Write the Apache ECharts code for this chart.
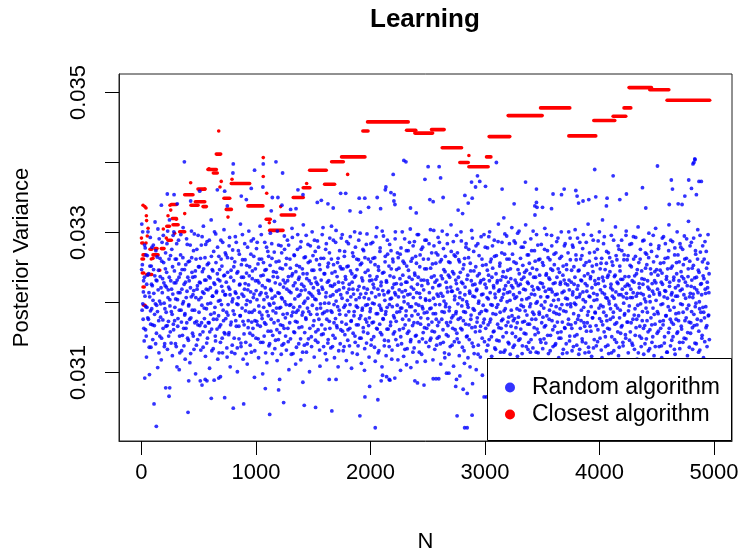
<!DOCTYPE html>
<html>
<head>
<meta charset="utf-8">
<script src="https://cdn.jsdelivr.net/npm/echarts@6/dist/echarts.min.js"></script>
<style>
  html, body { margin: 0; padding: 0; background: #fff; }
  #chart { width: 741px; height: 552px; }
</style>
</head>
<body>
<div id="chart"></div>
<script>
const FONT = '"Liberation Sans", Arial, Helvetica, sans-serif';

const xTicks = [0, 1000, 2000, 3000, 4000, 5000];
const yTicks = [0.031, 0.032, 0.033, 0.034, 0.035];
const yLabels = [0.031, 0.033, 0.035];
const seriesNames = ['Random algorithm', 'Closest algorithm'];

// Random algorithm: [N, posterior variance] (outer spread + outliers)
const randomPts = [
  // 0 - 250
  [3,.03312],[8,.03254],[12,.03198],[15,.03176],[19,.03231],[24,.03145],[27,.03282],[29,.03092],[31,.03209],[36,.03161],[40,.03268],[44,.03122],[48,.03193],[53,.03239],[57,.03301],[61,.03176],[66,.03214],[70,.03097],[74,.03252],[79,.03188],[83,.03136],[88,.03226],[92,.03279],[97,.03168],[101,.03203],[106,.03247],[110,.03055],[115,.03183],[119,.03315],[124,.03141],[128,.03232],[130,.03023],[133,.03196],[137,.03265],[142,.03107],[146,.03218],[151,.03174],[155,.03291],[160,.03152],[164,.03237],[169,.03198],[174,.03339],[173,.03118],[178,.03259],[182,.03214],[187,.03175],[191,.03296],[196,.03228],[200,.03137],[205,.03191],[209,.03248],[214,.03166],[212,.03078],[218,.03222],[223,.03284],[226,.03355],[227,.03133],[232,.03207],[236,.03173],[241,.03066],[241,.03262],[245,.03318],[247,.03078],[249,.03195],
  // 250 - 500
  [252,.03158],[256,.03231],[261,.03187],[265,.03276],[270,.03124],[274,.03212],[279,.03169],[283,.03301],[285,.03354],[288,.03245],[292,.03193],[297,.03141],[301,.03228],[306,.03262],[310,.03108],[313,.03341],[315,.03204],[319,.03177],[324,.03289],[328,.03236],[330,.03104],[333,.03152],[337,.03214],[342,.03268],[346,.03189],[351,.03131],[355,.03247],[360,.03198],[364,.03307],[369,.03163],[373,.03226],[375,.03401],[378,.03182],[382,.03119],[387,.03254],[391,.03207],[396,.03171],[400,.03283],[405,.03236],[407,.03043],[410,.03146],[413,.03088],[414,.03197],[419,.03259],[423,.03114],[428,.03221],[430,.03345],[432,.03178],[437,.03302],[441,.03243],[446,.03156],[450,.03211],[455,.03274],[459,.03133],[464,.03189],[468,.03237],[473,.03098],[477,.03262],[482,.03173],[486,.03219],[491,.03147],[495,.03296],
  // 500 - 750
  [501,.03204],[505,.03251],[509,.03359],[510,.03167],[514,.03088],[514,.03228],[519,.03132],[523,.03282],[528,.03196],[529,.03082],[532,.03244],[537,.03158],[541,.03309],[546,.03213],[550,.03177],[555,.03264],[557,.0309],[559,.03123],[564,.03232],[568,.03191],[572,.03088],[573,.03287],[577,.03149],[582,.03218],[586,.03256],[591,.03171],[595,.03106],[600,.03235],[604,.03199],[609,.03318],[610,.03063],[613,.03162],[618,.03247],[622,.03209],[627,.03134],[631,.03273],[635,.03089],[636,.03185],[640,.03226],[645,.03152],[649,.03298],[654,.03214],[658,.03176],[663,.03361],[663,.03241],[667,.03119],[672,.03202],[675,.03092],[676,.03266],[681,.03165],[685,.03231],[690,.03094],[690,.03143],[694,.03289],[699,.03197],[703,.03252],[708,.03128],[712,.03216],[717,.03174],[721,.03304],[726,.03239],[727,.03359],[727,.03064],[730,.03155],[735,.03211],[739,.03268],[744,.03186],[748,.03122],
  // 750 - 1000
  [750,.03338],[753,.03243],[757,.03197],[762,.03154],[766,.03281],[771,.03219],[775,.03108],[780,.03236],[784,.03172],[789,.03263],[793,.03139],[798,.03205],[799,.03385],[802,.03398],[802,.03049],[807,.03251],[811,.03183],[816,.03127],[820,.03294],[825,.03213],[829,.03166],[834,.03242],[838,.03101],[843,.03197],[847,.03274],[852,.03148],[856,.03225],[861,.03181],[865,.03312],[870,.03137],[872,.03352],[874,.03236],[879,.03192],[883,.03261],[888,.03119],[893,.03055],[893,.03209],[897,.03168],[902,.03284],[906,.03227],[911,.03143],[915,.03197],[916,.03347],[920,.03253],[924,.03112],[929,.03218],[933,.03174],[938,.03302],[942,.03238],[947,.03156],[951,.03201],[956,.03269],[959,.03363],[960,.03129],[965,.03186],[969,.03245],[974,.03163],[978,.03291],[983,.03212],[987,.03093],[988,.03389],[991,.03174],[996,.03231],
  // 1000 - 1250
  [1000,.03149],[1005,.03277],[1009,.03204],[1014,.03168],[1018,.03255],[1023,.03121],[1027,.03228],[1032,.03186],[1036,.03309],[1041,.03143],[1045,.03214],[1050,.03262],[1054,.03177],[1059,.03098],[1061,.03365],[1063,.03239],[1064,.03398],[1068,.03193],[1072,.03152],[1077,.03286],[1081,.03221],[1082,.03077],[1086,.03169],[1090,.03247],[1095,.03114],[1099,.03208],[1104,.03273],[1108,.03181],[1113,.03138],[1117,.03231],[1120,.0304],[1122,.03196],[1126,.03299],[1131,.03159],[1134,.03331],[1135,.03217],[1140,.03263],[1143,.0335],[1144,.03127],[1149,.03188],[1153,.03244],[1158,.03171],[1162,.03316],[1167,.03209],[1171,.03146],[1175,.03401],[1176,.03258],[1180,.03192],[1185,.03117],[1189,.03236],[1192,.0335],[1194,.03174],[1198,.03075],[1198,.03282],[1203,.03213],[1207,.0309],[1207,.03157],[1212,.03249],[1216,.03193],[1221,.03126],[1225,.03271],[1227,.03339],[1230,.03205],[1233,.03385],[1234,.03167],[1239,.03232],[1242,.03057],[1243,.03141],[1248,.03295],
  // 1250 - 1500
  [1252,.03201],[1257,.03178],[1261,.03254],[1266,.03132],[1270,.03219],[1275,.03289],[1279,.03163],[1284,.03237],[1288,.03104],[1293,.03196],[1297,.03262],[1302,.03148],[1303,.03333],[1306,.03214],[1311,.03181],[1315,.03306],[1320,.03241],[1324,.03127],[1329,.03193],[1333,.03268],[1338,.03157],[1342,.03228],[1347,.03112],[1350,.03334],[1351,.03186],[1356,.03253],[1360,.03172],[1365,.03297],[1367,.03361],[1369,.03209],[1374,.03141],[1378,.03236],[1383,.03194],[1387,.03279],[1392,.03118],[1396,.03217],[1401,.03165],[1405,.03248],[1410,.03086],[1410,.03186],[1411,.03354],[1414,.03311],[1419,.03223],[1422,.03053],[1423,.03139],[1428,.03202],[1432,.03265],[1437,.03176],[1441,.03129],[1446,.03241],[1450,.03192],[1455,.03283],[1459,.03148],[1464,.03214],[1468,.03101],[1473,.03259],[1477,.03183],[1482,.03227],[1486,.03137],[1491,.03301],[1495,.03209],
  // 1500 - 1750
  [1500,.03167],[1505,.03246],[1509,.03122],[1514,.03205],[1518,.03273],[1521,.0305],[1523,.03158],[1527,.03229],[1532,.03191],[1536,.03343],[1537,.03288],[1541,.03143],[1546,.03217],[1550,.03176],[1555,.03254],[1559,.03109],[1564,.03198],[1568,.03263],[1571,.03346],[1573,.03154],[1577,.03222],[1582,.03184],[1586,.03307],[1591,.03137],[1595,.03241],[1600,.03199],[1604,.03162],[1609,.03276],[1613,.03214],[1618,.03118],[1622,.03188],[1627,.03251],[1629,.03341],[1631,.03147],[1636,.03231],[1640,.0309],[1641,.03173],[1645,.03292],[1650,.03209],[1654,.03135],[1659,.03262],[1663,.03045],[1664,.03186],[1668,.03223],[1673,.03153],[1675,.03335],[1677,.03289],[1682,.03197],[1686,.03121],[1691,.03244],[1695,.03177],[1700,.0309],[1700,.03303],[1704,.03216],[1709,.03164],[1713,.03257],[1718,.03108],[1722,.03229],[1727,.03189],[1731,.03274],[1736,.03141],[1740,.03356],[1741,.03211],[1745,.03248],
  // 1750 - 2000
  [1750,.03172],[1754,.03297],[1759,.03228],[1763,.03131],[1768,.03193],[1772,.03266],[1777,.03154],[1781,.03237],[1784,.03356],[1786,.03182],[1790,.03117],[1795,.03251],[1799,.03203],[1804,.03161],[1808,.03284],[1813,.03219],[1817,.03138],[1821,.03331],[1822,.03197],[1826,.03245],[1831,.03173],[1835,.03106],[1840,.03229],[1844,.03271],[1849,.03156],[1853,.03212],[1858,.03187],[1862,.03301],[1867,.03143],[1871,.03238],[1876,.03195],[1880,.03262],[1885,.03126],[1889,.03218],[1894,.03168],[1898,.03289],[1902,.03349],[1903,.03207],[1907,.03149],[1908,.03038],[1912,.03254],[1913,.03329],[1916,.03181],[1921,.03113],[1925,.03235],[1930,.03192],[1934,.03276],[1939,.03158],[1943,.03221],[1948,.03103],[1951,.03349],[1952,.03065],[1952,.03264],[1957,.03176],[1961,.03213],[1966,.03142],[1970,.03298],[1975,.03197],[1979,.03246],[1984,.03336],[1984,.03167],[1988,.03122],[1993,.0308],[1993,.03231],[1997,.03187],
  // 2000 - 2250
  [2002,.03258],[2006,.03139],[2011,.03214],[2015,.03171],[2020,.03286],[2024,.03226],[2029,.03151],[2033,.03198],[2038,.03264],[2042,.03021],[2042,.03116],[2047,.03233],[2051,.03184],[2056,.03307],[2059,.0335],[2060,.03162],[2065,.03061],[2065,.03219],[2069,.03251],[2074,.03131],[2078,.03196],[2083,.03273],[2087,.03157],[2089,.03334],[2092,.03224],[2094,.03088],[2096,.03189],[2101,.03108],[2105,.03242],[2106,.03096],[2110,.03177],[2114,.03295],[2119,.03211],[2123,.03146],[2128,.03258],[2130,.03361],[2132,.03183],[2135,.03365],[2137,.03124],[2141,.03094],[2141,.03229],[2146,.03193],[2150,.03269],[2155,.03162],[2159,.03216],[2164,.0309],[2164,.03137],[2168,.03283],[2170,.03089],[2173,.03205],[2177,.03172],[2179,.03357],[2182,.03248],[2186,.03119],[2191,.03194],[2195,.03262],[2199,.03383],[2200,.03155],[2204,.03236],[2205,.03345],[2208,.03354],[2209,.03178],[2213,.03092],[2213,.03214],[2214,.0334],[2218,.03301],[2222,.03147],[2227,.03227],[2231,.03186],[2236,.03271],[2240,.03118],[2245,.03208],[2249,.03249],
  // 2250 - 2500
  [2254,.03161],[2258,.03234],[2263,.03103],[2263,.03192],[2267,.03278],[2272,.03141],[2276,.03215],[2281,.03176],[2285,.03259],[2290,.03123],[2292,.03403],[2294,.03201],[2299,.03291],[2303,.03168],[2308,.03229],[2310,.03401],[2312,.03188],[2315,.03111],[2317,.03252],[2321,.03134],[2326,.03211],[2330,.03274],[2335,.03159],[2339,.03236],[2344,.03194],[2348,.03305],[2350,.03335],[2353,.03107],[2353,.03147],[2357,.03222],[2362,.03181],[2366,.03263],[2371,.03129],[2375,.03207],[2380,.03171],[2384,.03287],[2388,.03088],[2389,.03239],[2393,.03152],[2398,.03198],[2400,.03328],[2402,.03256],[2407,.03115],[2411,.03085],[2411,.03226],[2416,.03183],[2420,.03297],[2425,.03144],[2429,.03213],[2434,.03268],[2438,.03169],[2443,.03232],[2447,.03126],[2452,.03194],[2456,.03279],[2461,.03157],[2465,.03218],[2468,.03082],[2470,.03185],[2474,.03248],[2476,.03376],[2479,.03116],[2483,.03203],[2488,.03289],[2492,.03163],[2497,.03231],
  // 2500 - 2750
  [2501,.03177],[2504,.03394],[2506,.03262],[2510,.03137],[2515,.03214],[2519,.03347],[2519,.03191],[2524,.03304],[2528,.03149],[2533,.03236],[2537,.03172],[2542,.03255],[2546,.03118],[2548,.03091],[2548,.03344],[2551,.03206],[2555,.03281],[2560,.03158],[2564,.03229],[2569,.03184],[2573,.03091],[2573,.03271],[2578,.03139],[2582,.03212],[2587,.03167],[2591,.03293],[2596,.03224],[2597,.03091],[2600,.03394],[2600,.03151],[2605,.03197],[2609,.03258],[2613,.03378],[2614,.03112],[2618,.03238],[2623,.03176],[2627,.03302],[2632,.03209],[2635,.0335],[2636,.03143],[2641,.03247],[2645,.03186],[2650,.03121],[2654,.03266],[2659,.03198],[2663,.03154],[2665,.03099],[2668,.03221],[2672,.03284],[2677,.03167],[2681,.03239],[2685,.03099],[2686,.03126],[2690,.03193],[2695,.03257],[2699,.03172],[2704,.03311],[2708,.03216],[2713,.03139],[2717,.03244],[2722,.03181],[2726,.03109],[2731,.03268],[2735,.03204],[2740,.03161],[2745,.0308],[2745,.03232],[2749,.03187],
  // 2750 - 3000
  [2752,.0309],[2753,.03296],[2757,.03038],[2758,.03148],[2762,.03219],[2766,.03332],[2767,.03176],[2771,.03261],[2776,.03124],[2780,.03207],[2781,.03095],[2785,.03243],[2789,.03163],[2794,.03288],[2798,.03195],[2803,.03136],[2805,.03327],[2807,.03227],[2810,.03076],[2812,.03174],[2816,.03254],[2821,.03113],[2823,.03021],[2825,.03353],[2825,.03211],[2830,.03186],[2834,.03279],[2839,.03151],[2843,.03233],[2845,.0307],[2845,.03021],[2848,.03197],[2852,.03121],[2854,.03342],[2857,.03264],[2861,.03168],[2866,.03216],[2870,.03108],[2875,.03245],[2879,.03182],[2883,.03372],[2884,.03303],[2888,.03039],[2888,.03142],[2889,.03349],[2892,.03084],[2893,.03225],[2897,.03191],[2902,.03273],[2906,.03127],[2911,.03208],[2915,.03165],[2918,.03365],[2920,.03251],[2924,.03104],[2929,.03219],[2933,.03178],[2935,.03381],[2938,.03284],[2942,.03139],[2947,.03202],[2951,.03241],[2955,.03373],[2956,.03159],[2960,.03122],[2965,.03231],[2969,.03187],[2974,.03262],[2978,.03096],[2983,.03212],[2987,.03171],[2992,.03297],[2993,.03065],[2996,.03144],
  // 3000 - 3250
  [3001,.03226],[3005,.03366],[3005,.03189],[3010,.03254],[3014,.03065],[3014,.03131],[3019,.03207],[3023,.03278],[3028,.03168],[3032,.03239],[3037,.03147],[3041,.03301],[3046,.03214],[3050,.03176],[3055,.03262],[3059,.03123],[3064,.03196],[3068,.03249],[3073,.03158],[3077,.03221],[3082,.03289],[3086,.03135],[3091,.03207],[3095,.03183],[3100,.034],[3100,.03267],[3104,.03146],[3109,.03231],[3113,.03197],[3118,.03312],[3122,.03164],[3127,.03218],[3131,.03256],[3136,.03129],[3140,.03203],[3145,.03174],[3149,.03286],[3150,.03362],[3154,.03237],[3158,.03151],[3163,.03212],[3165,.03321],[3167,.03188],[3172,.03269],[3176,.03132],[3181,.03224],[3185,.03167],[3190,.03295],[3194,.03201],[3199,.03246],[3203,.03143],[3208,.03179],[3212,.03262],[3217,.03215],[3221,.03126],[3226,.03234],[3230,.03189],[3235,.03307],[3239,.03156],[3244,.03221],[3248,.03174],
  // 3250 - 3500
  [3253,.03258],[3255,.03341],[3257,.03139],[3262,.03206],[3266,.03285],[3271,.03164],[3275,.03228],[3280,.03191],[3284,.03123],[3289,.03247],[3293,.03179],[3298,.03302],[3302,.03214],[3307,.03148],[3311,.03263],[3316,.03196],[3320,.03233],[3325,.03127],[3329,.03172],[3334,.03279],[3338,.03219],[3343,.03156],[3347,.03243],[3352,.03188],[3355,.03372],[3356,.03311],[3361,.03137],[3365,.03205],[3370,.03268],[3374,.03169],[3379,.03227],[3383,.03143],[3388,.03256],[3392,.03194],[3397,.03129],[3401,.03291],[3406,.03212],[3410,.03176],[3415,.03249],[3419,.03135],[3424,.03218],[3428,.03183],[3433,.03274],[3436,.03338],[3437,.03325],[3438,.03154],[3442,.03236],[3447,.03199],[3450,.03362],[3450,.03343],[3451,.03297],[3455,.03336],[3456,.03162],[3460,.03221],[3465,.03128],[3469,.03261],[3474,.03186],[3478,.03239],[3483,.03147],[3487,.03208],[3492,.03283],[3496,.03171],
  // 3500 - 3750
  [3501,.03227],[3503,.03336],[3505,.03134],[3510,.03253],[3514,.03192],[3519,.03165],[3523,.03306],[3528,.03216],[3532,.03142],[3537,.03241],[3541,.03181],[3546,.03274],[3550,.03208],[3555,.03127],[3559,.03235],[3564,.03189],[3568,.03261],[3573,.03153],[3577,.03219],[3582,.03334],[3582,.03296],[3586,.03174],[3591,.03246],[3595,.03355],[3595,.03137],[3600,.03203],[3604,.03269],[3609,.03166],[3613,.03228],[3618,.03141],[3622,.03194],[3627,.03287],[3631,.03212],[3636,.03157],[3640,.03248],[3645,.03121],[3649,.03183],[3654,.03263],[3658,.03226],[3663,.03149],[3667,.03301],[3669,.03354],[3672,.03197],[3676,.03172],[3681,.03239],[3685,.03133],[3690,.03216],[3692,.03362],[3694,.03281],[3699,.03163],[3703,.03227],[3708,.03187],[3712,.03254],[3717,.03128],[3721,.03205],[3726,.03271],[3730,.03176],[3735,.03232],[3739,.03145],[3744,.03292],[3748,.03198],
  // 3750 - 4000
  [3752,.03168],[3757,.03246],[3761,.03131],[3766,.03211],[3770,.03279],[3775,.03184],[3779,.03226],[3784,.03152],[3788,.03304],[3793,.03197],[3794,.0336],[3797,.03261],[3802,.03139],[3805,.03352],[3806,.03219],[3811,.03176],[3815,.03245],[3818,.03342],[3820,.03126],[3824,.03208],[3829,.03286],[3833,.03163],[3838,.03232],[3842,.03189],[3847,.03267],[3851,.03144],[3856,.03215],[3857,.03345],[3860,.03297],[3865,.03171],[3869,.03238],[3874,.03128],[3878,.03201],[3883,.03257],[3887,.03159],[3892,.03224],[3896,.03182],[3901,.03312],[3905,.03136],[3907,.03347],[3910,.03209],[3914,.03271],[3919,.03166],[3923,.03237],[3928,.03194],[3932,.03123],[3937,.03252],[3941,.03178],[3946,.03289],[3950,.03213],[3955,.03147],[3959,.0339],[3960,.03231],[3964,.03185],[3968,.03351],[3969,.03263],[3973,.03138],[3978,.03204],[3982,.03276],[3987,.03161],[3991,.03227],[3996,.03192],
  // 4000 - 4250
  [4000,.03301],[4005,.03149],[4009,.03218],[4014,.03256],[4018,.03173],[4023,.03121],[4027,.03318],[4027,.03236],[4032,.03194],[4036,.03284],[4041,.03158],[4045,.03212],[4050,.03247],[4054,.03137],[4059,.03181],[4061,.03338],[4063,.03273],[4067,.03349],[4068,.03206],[4072,.03163],[4077,.03239],[4081,.03127],[4086,.03198],[4090,.03264],[4095,.03176],[4099,.03221],[4104,.03296],[4108,.03151],[4113,.03209],[4117,.03253],[4120,.03381],[4122,.03186],[4126,.03131],[4131,.03237],[4135,.03169],[4140,.03308],[4144,.03215],[4149,.03143],[4153,.03261],[4158,.03192],[4162,.03227],[4167,.03124],[4171,.03276],[4176,.03178],[4178,.03347],[4180,.03245],[4185,.03156],[4189,.03211],[4194,.03289],[4198,.03167],[4203,.03233],[4207,.03138],[4212,.03199],[4216,.03268],[4221,.03184],[4225,.03223],[4230,.03149],[4234,.03302],[4236,.03355],[4239,.03206],[4243,.03261],[4248,.03172],
  // 4250 - 4500
  [4252,.03128],[4257,.03237],[4261,.03195],[4266,.03283],[4270,.03158],[4275,.03219],[4279,.03251],[4284,.03142],[4288,.03207],[4293,.03176],[4297,.03294],[4302,.03229],[4306,.03133],[4311,.03191],[4315,.03266],[4320,.03164],[4324,.03241],[4329,.03119],[4333,.03213],[4338,.03308],[4342,.03181],[4347,.03227],[4351,.03152],[4356,.03262],[4360,.03198],[4365,.03137],[4369,.03245],[4374,.03174],[4376,.03364],[4378,.03288],[4383,.03211],[4387,.03126],[4392,.03233],[4396,.03167],[4401,.03271],[4405,.03335],[4405,.03201],[4410,.03148],[4414,.03254],[4419,.03186],[4423,.03222],[4428,.03131],[4432,.03299],[4437,.03209],[4441,.03161],[4446,.03248],[4450,.03178],[4455,.03273],[4459,.03143],[4464,.03216],[4468,.03192],[4473,.03258],[4477,.03124],[4482,.03231],[4486,.03169],[4491,.03306],[4495,.03203],[4500,.03247],
  // 4500 - 4750
  [4504,.03156],[4507,.03395],[4508,.03219],[4513,.03184],[4517,.03277],[4522,.03137],[4526,.03211],[4531,.03246],[4535,.03163],[4540,.03229],[4544,.03121],[4549,.03292],[4553,.03198],[4558,.03174],[4562,.03257],[4567,.03142],[4571,.03217],[4576,.03284],[4580,.03181],[4585,.03233],[4589,.03129],[4594,.03206],[4598,.03264],[4603,.03157],[4607,.03311],[4610,.0334],[4612,.03223],[4616,.03189],[4621,.03138],[4625,.03249],[4628,.03375],[4630,.03172],[4634,.03214],[4638,.03362],[4639,.03287],[4643,.03151],[4648,.03232],[4652,.03193],[4657,.03268],[4661,.03126],[4666,.03209],[4670,.03176],[4675,.03241],[4679,.03301],[4684,.03158],[4688,.03341],[4688,.03224],[4693,.03185],[4697,.03258],[4702,.03134],[4706,.03217],[4711,.03279],[4715,.03166],[4720,.03237],[4722,.0334],[4724,.03197],[4729,.03143],[4733,.03254],[4738,.03211],[4742,.03295],[4746,.03352],[4747,.03174],
  // 4750 - 4960
  [4751,.03229],[4756,.03148],[4760,.03263],[4765,.03191],[4769,.03124],[4774,.03237],[4778,.03316],[4780,.03375],[4783,.03172],[4787,.03208],[4792,.03281],[4796,.03156],[4801,.03223],[4804,.03363],[4805,.03187],[4810,.03249],[4814,.03133],[4817,.03398],[4819,.03212],[4823,.03292],[4825,.034],[4828,.03167],[4832,.03235],[4833,.03405],[4835,.03404],[4837,.03194],[4841,.03269],[4846,.03141],[4847,.03354],[4850,.03218],[4855,.03176],[4859,.03304],[4864,.03246],[4868,.03159],[4870,.03373],[4873,.03201],[4877,.03132],[4882,.03272],[4886,.03186],[4890,.03373],[4891,.03227],[4895,.03149],[4900,.03258],[4904,.03193],[4909,.03121],[4913,.03234],[4918,.03178],[4922,.03287],[4927,.03213],[4931,.03164],[4936,.03249],[4940,.03137],[4945,.03221],[4949,.03297],[4954,.03182],[4958,.03241]
];

// Random algorithm, dense core of the cloud
const randomCorePts = [
  [2,.03247],[6,.03189],[11,.03301],[17,.03215],[21,.03163],[26,.03236],[33,.03278],[38,.03194],[42,.03152],[46,.03226],[51,.03267],[55,.03178],[63,.03241],[68,.03136],[72,.03208],[77,.03293],[81,.03169],[86,.03252],[90,.03191],[95,.03224],[99,.03147],[104,.03282],[108,.03213],[113,.03167],[117,.03238],[122,.03198],[126,.03274],[131,.03156],[135,.03231],[140,.03187],[144,.03305],[149,.03246],[153,.03128],[158,.03202],[162,.03263],[167,.03179],[171,.03221],[176,.03149],[180,.03286],[185,.03234],[189,.03163],[194,.03257],[198,.03199],[203,.03141],[207,.03224],[211,.03271],[216,.03186],[220,.03243],[225,.03167],[229,.03302],[234,.03218],[238,.03152],[243,.03236],[248,.03204],
  [254,.03267],[259,.03142],[263,.03219],[268,.03183],[272,.03251],[277,.03296],[281,.03161],[286,.03228],[290,.03174],[295,.03262],[299,.03205],[304,.03137],[308,.03284],[312,.03232],[317,.03166],[321,.03214],[326,.03255],[331,.03189],[335,.03128],[340,.03241],[344,.03297],[349,.03172],[353,.03219],[358,.03153],[362,.03264],[367,.03201],[371,.03138],[376,.03247],[380,.03184],[385,.03229],[389,.03163],[394,.03291],[398,.03216],[403,.03149],[408,.03258],[412,.03195],[417,.03231],[421,.03176],[426,.03282],[430,.03127],[435,.03208],[439,.03264],[444,.03189],[448,.03236],[453,.03152],[457,.03217],[462,.03298],[466,.03171],[471,.03245],[475,.03207],[480,.03139],[484,.03276],[489,.03224],[493,.03168],[498,.03251],
  [503,.03186],[507,.03229],[512,.03154],[516,.03263],[521,.03207],[525,.03171],[530,.03294],[534,.03215],[539,.03136],[543,.03248],[548,.03192],[552,.03232],[557,.03166],[561,.03283],[566,.03219],[570,.03142],[575,.03254],[579,.03198],[584,.03171],[588,.03237],[593,.03289],[597,.03158],[602,.03221],[606,.03183],[611,.03266],[615,.03131],[620,.03209],[624,.03245],[629,.03176],[633,.03228],[638,.03301],[642,.03193],[647,.03145],[651,.03257],[656,.03216],[660,.03162],[665,.03279],[669,.03233],[674,.03181],[678,.03128],[683,.03247],[687,.03203],[692,.03168],[696,.03262],[701,.03223],[705,.03149],[710,.03286],[714,.03189],[719,.03238],[723,.03157],[728,.03211],[732,.03271],[737,.03177],[741,.03229],[746,.03135],
  [752,.03264],[756,.03182],[761,.03222],[765,.03157],[770,.03293],[774,.03211],[779,.03168],[783,.03246],[788,.03129],[792,.03201],[797,.03275],[801,.03188],[806,.03231],[810,.03149],[815,.03258],[819,.03215],[824,.03174],[828,.03286],[833,.03198],[837,.03135],[842,.03244],[846,.03207],[851,.03166],[855,.03269],[860,.03226],[864,.03181],[869,.03142],[873,.03254],[878,.03212],[882,.03297],[887,.03173],[891,.03236],[896,.03155],[900,.03219],[905,.03261],[909,.03188],[914,.03127],[918,.03242],[923,.03203],[927,.03279],[932,.03164],[936,.03225],[941,.03186],[945,.03251],[950,.03139],[954,.03215],[959,.03288],[963,.03172],[968,.03234],[972,.03153],[977,.03207],[981,.03266],[986,.03189],[990,.03131],[995,.03248],
  [1002,.03217],[1007,.03173],[1011,.03286],[1016,.03231],[1020,.03148],[1025,.03195],[1029,.03262],[1034,.03211],[1038,.03166],[1043,.03238],[1047,.03297],[1052,.03182],[1056,.03224],[1061,.03143],[1066,.03257],[1070,.03204],[1075,.03171],[1079,.03246],[1084,.03128],[1088,.03213],[1093,.03279],[1097,.03187],[1102,.03232],[1106,.03159],[1111,.03266],[1115,.03198],[1120,.03141],[1124,.03253],[1129,.03219],[1133,.03176],[1138,.03284],[1142,.03206],[1147,.03153],[1151,.03237],[1156,.03199],[1160,.03272],[1165,.03134],[1169,.03228],[1174,.03185],[1178,.03243],[1183,.03161],[1187,.03302],[1192,.03214],[1196,.03147],[1201,.03259],[1205,.03192],[1210,.03226],[1214,.03168],[1219,.03281],[1223,.03207],[1228,.03139],[1232,.03248],[1237,.03183],[1241,.03222],[1246,.03163],
  [1250,.03276],[1255,.03228],[1259,.03152],[1264,.03197],[1268,.03263],[1273,.03184],[1277,.03231],[1282,.03144],[1286,.03282],[1291,.03216],[1295,.03171],[1300,.03249],[1304,.03197],[1309,.03126],[1313,.03238],[1318,.03293],[1322,.03186],[1327,.03224],[1331,.03158],[1336,.03267],[1340,.03205],[1345,.03173],[1349,.03244],[1354,.03136],[1358,.03219],[1363,.03276],[1367,.03189],[1372,.03233],[1376,.03164],[1381,.03251],[1385,.03211],[1390,.03148],[1394,.03287],[1399,.03226],[1403,.03182],[1408,.03129],[1412,.03241],[1417,.03199],[1421,.03264],[1426,.03157],[1430,.03218],[1435,.03178],[1439,.03296],[1444,.03234],[1448,.03141],[1453,.03206],[1457,.03257],[1462,.03187],[1466,.03231],[1471,.03163],[1475,.03281],[1480,.03212],[1484,.03151],[1489,.03246],[1493,.03196],[1498,.03267],
  [1502,.03221],[1507,.03174],[1511,.03289],[1516,.03235],[1520,.03146],[1525,.03204],[1529,.03261],[1534,.03183],[1538,.03226],[1543,.03161],[1547,.03279],[1552,.03213],[1556,.03132],[1561,.03247],[1565,.03192],[1570,.03232],[1574,.03168],[1579,.03297],[1583,.03219],[1588,.03155],[1592,.03263],[1597,.03186],[1601,.03241],[1606,.03127],[1610,.03208],[1615,.03284],[1619,.03176],[1624,.03229],[1628,.03142],[1633,.03256],[1637,.03199],[1642,.03271],[1646,.03163],[1651,.03224],[1655,.03188],[1660,.03309],[1664,.03242],[1669,.03137],[1673,.03211],[1678,.03254],[1682,.03171],[1687,.03226],[1691,.03149],[1696,.03286],[1700,.03202],[1705,.03167],[1709,.03237],[1714,.03194],[1718,.03263],[1723,.03131],[1727,.03218],[1732,.03183],[1736,.03251],[1741,.03161],[1745,.03292],
  [1752,.03206],[1757,.03159],[1761,.03248],[1766,.03221],[1770,.03137],[1775,.03273],[1779,.03196],[1784,.03233],[1788,.03169],[1793,.03287],[1797,.03214],[1802,.03146],[1806,.03252],[1811,.03187],[1815,.03226],[1820,.03163],[1824,.03294],[1829,.03208],[1833,.03174],[1838,.03241],[1842,.03128],[1847,.03219],[1851,.03266],[1856,.03181],[1860,.03236],[1865,.03152],[1869,.03279],[1874,.03204],[1878,.03168],[1883,.03247],[1887,.03193],[1892,.03138],[1896,.03261],[1901,.03223],[1905,.03177],[1910,.03299],[1914,.03212],[1919,.03149],[1923,.03256],[1928,.03189],[1932,.03231],[1937,.03164],[1941,.03274],[1946,.03207],[1950,.03134],[1955,.03243],[1959,.03196],[1964,.03283],[1968,.03172],[1973,.03219],[1977,.03156],[1982,.03262],[1986,.03205],[1991,.03178],[1995,.03238],
  [2000,.03191],[2004,.03284],[2009,.03147],[2013,.03232],[2018,.03199],[2022,.03263],[2027,.03172],[2031,.03221],[2036,.03136],[2040,.03254],[2045,.03208],[2049,.03294],[2054,.03163],[2058,.03237],[2063,.03184],[2067,.03128],[2072,.03246],[2076,.03211],[2081,.03169],[2085,.03278],[2090,.03192],[2094,.03229],[2099,.03154],[2103,.03302],[2108,.03217],[2112,.03176],[2117,.03243],[2121,.03138],[2126,.03203],[2130,.03266],[2135,.03187],[2139,.03231],[2144,.03162],[2148,.03289],[2153,.03214],[2157,.03145],[2162,.03252],[2166,.03197],[2171,.03238],[2175,.03167],[2180,.03274],[2184,.03206],[2189,.03132],[2193,.03221],[2198,.03258],[2202,.03181],[2207,.03226],[2211,.03158],[2216,.03291],[2220,.03211],[2225,.03173],[2229,.03247],[2234,.03196],[2238,.03139],[2243,.03264],
  [2251,.03218],[2256,.03187],[2260,.03269],[2265,.03151],[2269,.03226],[2274,.03192],[2278,.03301],[2283,.03239],[2287,.03163],[2292,.03208],[2296,.03256],[2301,.03133],[2305,.03217],[2310,.03181],[2314,.03274],[2319,.03229],[2323,.03156],[2328,.03198],[2332,.03246],[2337,.03175],[2341,.03286],[2346,.03212],[2350,.03144],[2355,.03259],[2359,.03194],[2364,.03233],[2368,.03167],[2373,.03281],[2377,.03219],[2382,.03135],[2386,.03242],[2391,.03188],[2395,.03266],[2400,.03153],[2404,.03214],[2409,.03297],[2413,.03171],[2418,.03236],[2422,.03196],[2427,.03129],[2431,.03251],[2436,.03207],[2440,.03178],[2445,.03276],[2449,.03224],[2454,.03148],[2458,.03191],[2463,.03262],[2467,.03232],[2472,.03164],[2476,.03289],[2481,.03205],[2485,.03143],[2490,.03248],[2494,.03186],
  [2503,.03227],[2508,.03168],[2512,.03284],[2517,.03203],[2521,.03146],[2526,.03249],[2530,.03192],[2535,.03271],[2539,.03159],[2544,.03221],[2548,.03184],[2553,.03303],[2557,.03238],[2562,.03133],[2566,.03197],[2571,.03256],[2575,.03176],[2580,.03232],[2584,.03149],[2589,.03268],[2593,.03209],[2598,.03172],[2602,.03286],[2607,.03225],[2611,.03141],[2616,.03213],[2620,.03261],[2625,.03187],[2629,.03234],[2634,.03161],[2638,.03277],[2643,.03202],[2647,.03128],[2652,.03244],[2656,.03194],[2661,.03229],[2665,.03171],[2670,.03297],[2674,.03215],[2679,.03152],[2683,.03258],[2688,.03188],[2692,.03236],[2697,.03137],[2701,.03222],[2706,.03273],[2710,.03178],[2715,.03216],[2719,.03163],[2724,.03287],[2728,.03241],[2733,.03144],[2737,.03209],[2742,.03266],[2746,.03184],
  [2751,.03227],[2755,.03156],[2760,.03271],[2764,.03198],[2769,.03236],[2773,.03143],[2778,.03258],[2782,.03214],[2787,.03178],[2791,.03301],[2796,.03229],[2800,.03161],[2805,.03204],[2809,.03248],[2814,.03187],[2818,.03131],[2823,.03263],[2827,.03222],[2832,.03169],[2836,.03284],[2841,.03201],[2845,.03152],[2850,.03239],[2854,.03193],[2859,.03276],[2863,.03147],[2868,.03213],[2872,.03256],[2877,.03176],[2881,.03231],[2886,.03164],[2890,.03292],[2895,.03209],[2899,.03137],[2904,.03245],[2908,.03189],[2913,.03226],[2917,.03158],[2922,.03281],[2926,.03217],[2931,.03172],[2935,.03238],[2940,.03126],[2944,.03199],[2949,.03267],[2953,.03184],[2958,.03228],[2962,.03166],[2967,.03294],[2971,.03211],[2976,.03149],[2980,.03253],[2985,.03196],[2989,.03233],[2994,.03176],
  [3003,.03279],[3007,.03163],[3012,.03221],[3016,.03188],[3021,.03246],[3025,.03139],[3030,.03205],[3034,.03294],[3039,.03231],[3043,.03172],[3048,.03258],[3052,.03197],[3057,.03151],[3061,.03236],[3066,.03281],[3070,.03184],[3075,.03224],[3079,.03159],[3084,.03266],[3088,.03212],[3093,.03133],[3097,.03241],[3102,.03193],[3106,.03228],[3111,.03169],[3115,.03287],[3120,.03216],[3124,.03145],[3129,.03252],[3133,.03186],[3138,.03232],[3142,.03163],[3147,.03271],[3151,.03207],[3156,.03176],[3160,.03244],[3165,.03129],[3169,.03219],[3174,.03298],[3178,.03191],[3183,.03236],[3187,.03157],[3192,.03262],[3196,.03214],[3201,.03172],[3205,.03229],[3210,.03141],[3214,.03284],[3219,.03203],[3223,.03248],[3228,.03166],[3232,.03224],[3237,.03181],[3241,.03269],[3246,.03136],
  [3250,.03211],[3255,.03288],[3259,.03177],[3264,.03232],[3268,.03151],[3273,.03256],[3277,.03208],[3282,.03171],[3286,.03299],[3291,.03224],[3295,.03146],[3300,.03241],[3304,.03189],[3309,.03226],[3313,.03162],[3318,.03279],[3322,.03204],[3327,.03138],[3331,.03253],[3336,.03194],[3340,.03236],[3345,.03173],[3349,.03286],[3354,.03218],[3358,.03155],[3363,.03246],[3367,.03182],[3372,.03229],[3376,.03133],[3381,.03268],[3385,.03207],[3390,.03169],[3394,.03241],[3399,.03198],[3403,.03147],[3408,.03274],[3412,.03223],[3417,.03186],[3421,.03302],[3426,.03236],[3430,.03164],[3435,.03211],[3439,.03259],[3444,.03176],[3448,.03129],[3453,.03247],[3457,.03201],[3462,.03282],[3466,.03157],[3471,.03219],[3475,.03183],[3480,.03262],[3484,.03228],[3489,.03143],[3493,.03196],
  [3503,.03257],[3507,.03179],[3512,.03222],[3516,.03148],[3521,.03276],[3525,.03201],[3530,.03167],[3534,.03239],[3539,.03297],[3543,.03208],[3548,.03153],[3552,.03264],[3557,.03219],[3561,.03176],[3566,.03233],[3570,.03131],[3575,.03248],[3579,.03196],[3584,.03281],[3588,.03215],[3593,.03161],[3597,.03227],[3602,.03186],[3606,.03254],[3611,.03139],[3615,.03211],[3620,.03271],[3624,.03184],[3629,.03236],[3633,.03172],[3638,.03292],[3642,.03204],[3647,.03149],[3651,.03243],[3656,.03191],[3660,.03229],[3665,.03158],[3669,.03266],[3674,.03214],[3678,.03127],[3683,.03252],[3687,.03188],[3692,.03232],[3696,.03164],[3701,.03284],[3705,.03206],[3710,.03141],[3714,.03247],[3719,.03197],[3723,.03225],[3728,.03169],[3732,.03301],[3737,.03218],[3741,.03152],[3746,.03261],
  [3750,.03194],[3755,.03229],[3759,.03163],[3764,.03282],[3768,.03215],[3773,.03137],[3777,.03251],[3782,.03199],[3786,.03236],[3791,.03171],[3795,.03268],[3800,.03207],[3804,.03154],[3809,.03292],[3813,.03224],[3818,.03181],[3822,.03246],[3827,.03133],[3831,.03212],[3836,.03262],[3840,.03174],[3845,.03231],[3849,.03148],[3854,.03277],[3858,.03204],[3863,.03193],[3867,.03253],[3872,.03166],[3876,.03227],[3881,.03142],[3885,.03286],[3890,.03216],[3894,.03171],[3899,.03241],[3903,.03187],[3908,.03129],[3912,.03259],[3917,.03208],[3921,.03234],[3926,.03159],[3930,.03296],[3935,.03221],[3939,.03178],[3944,.03244],[3948,.03135],[3953,.03203],[3957,.03272],[3962,.03186],[3966,.03226],[3971,.03167],[3975,.03254],[3980,.03211],[3984,.03144],[3989,.03288],[3993,.03234],
  [4002,.03177],[4007,.03248],[4011,.03196],[4016,.03132],[4020,.03263],[4025,.03214],[4029,.03168],[4034,.03231],[4038,.03186],[4043,.03294],[4047,.03223],[4052,.03151],[4056,.03207],[4061,.03256],[4065,.03174],[4070,.03236],[4074,.03139],[4079,.03271],[4083,.03202],[4088,.03162],[4092,.03244],[4097,.03191],[4101,.03226],[4106,.03128],[4110,.03258],[4115,.03218],[4119,.03179],[4124,.03289],[4128,.03206],[4133,.03147],[4137,.03239],[4142,.03196],[4146,.03267],[4151,.03171],[4155,.03229],[4160,.03158],[4164,.03281],[4169,.03211],[4173,.03136],[4178,.03252],[4182,.03189],[4187,.03233],[4191,.03165],[4196,.03274],[4200,.03219],[4205,.03143],[4209,.03208],[4214,.03261],[4218,.03182],[4223,.03237],[4227,.03154],[4232,.03296],[4236,.03213],[4241,.03172],[4245,.03226],
  [4250,.03267],[4254,.03188],[4259,.03224],[4263,.03146],[4268,.03253],[4272,.03207],[4277,.03171],[4281,.03284],[4286,.03231],[4290,.03139],[4295,.03214],[4299,.03262],[4304,.03182],[4308,.03238],[4313,.03153],[4317,.03293],[4322,.03209],[4326,.03176],[4331,.03247],[4335,.03196],[4340,.03128],[4344,.03257],[4349,.03221],[4353,.03166],[4358,.03276],[4362,.03213],[4367,.03149],[4371,.03234],[4376,.03187],[4380,.03226],[4385,.03163],[4389,.03289],[4394,.03205],[4398,.03141],[4403,.03249],[4407,.03192],[4412,.03269],[4416,.03174],[4421,.03231],[4425,.03158],[4430,.03264],[4434,.03219],[4439,.03134],[4443,.03201],[4448,.03283],[4452,.03241],[4457,.03168],[4461,.03227],[4466,.03151],[4470,.03296],[4475,.03212],[4479,.03183],[4484,.03244],[4488,.03137],[4493,.03228],
  [4502,.03266],[4506,.03187],[4511,.03239],[4515,.03159],[4520,.03281],[4524,.03214],[4529,.03173],[4533,.03256],[4538,.03197],[4542,.03138],[4547,.03242],[4551,.03226],[4556,.03168],[4560,.03294],[4565,.03208],[4569,.03151],[4574,.03263],[4578,.03216],[4583,.03181],[4587,.03237],[4592,.03129],[4596,.03248],[4601,.03194],[4605,.03274],[4610,.03163],[4614,.03229],[4619,.03176],[4623,.03289],[4628,.03211],[4632,.03146],[4637,.03252],[4641,.03203],[4646,.03169],[4650,.03236],[4655,.03133],[4659,.03278],[4664,.03221],[4668,.03184],[4673,.03257],[4677,.03156],[4682,.03209],[4686,.03268],[4691,.03174],[4695,.03231],[4700,.03143],[4704,.03284],[4709,.03198],[4713,.03244],[4718,.03162],[4722,.03219],[4727,.03276],[4731,.03186],[4736,.03234],[4740,.03149],[4745,.03262],
  [4753,.03206],[4758,.03178],[4762,.03291],[4767,.03224],[4771,.03157],[4776,.03248],[4780,.03196],[4785,.03136],[4789,.03259],[4794,.03213],[4798,.03171],[4803,.03286],[4807,.03232],[4812,.03164],[4816,.03207],[4821,.03253],[4825,.03183],[4830,.03221],[4834,.03142],[4839,.03274],[4843,.03199],[4848,.03236],[4852,.03168],[4857,.03262],[4861,.03214],[4866,.03129],[4870,.03243],[4875,.03191],[4879,.03296],[4884,.03226],[4888,.03174],[4893,.03211],[4897,.03153],[4902,.03281],[4906,.03238],[4911,.03186],[4915,.03262],[4920,.03144],[4924,.03219],[4929,.03194],[4933,.03273],[4938,.03167],[4942,.03229],[4947,.03256],[4951,.03181],[4956,.03214],[4960,.03147]
];

// Closest algorithm: flat runs [N start, N end, posterior variance]
const closestRuns = [
  [0,0,.03292],[3,14,.03285],[5,18,.03262],[8,20,.03242],[14,24,.03222],[20,31,.03196],[14,30,.03268],[14,22,.03339],
  [29,29,.03337],[40,45,.03335],[43,43,.03324],[45,49,.03317],[51,51,.03295],[58,58,.03306],[40,40,.03285],[46,90,.0324],
  [75,90,.03276],[86,86,.03262],[101,101,.03263],[101,145,.03268],[120,136,.03277],[160,160,.03246],[174,197,.03277],
  [191,191,.03305],[217,217,.03292],[232,261,.03289],[222,244,.03309],[232,232,.03324],[250,250,.03339],[256,256,.03332],
  [261,305,.0334],[270,305,.0332],[276,320,.03311],[290,290,.03299],[305,305,.03319],[334,378,.03301],[378,378,.03327],
  [378,450,.03354],[430,430,.03371],[433,494,.03339],[471,553,.03344],[494,553,.03362],[538,567,.03337],[555,555,.03362],
  [581,654,.0339],[590,590,.03391],[628,662,.03385],[654,692,.03412],[675,675,.03445],[686,686,.03365],[697,697,.03373],
  [721,771,.03349],[741,785,.03333],[756,756,.03322],[791,791,.03376],[785,945,.0337],[930,1061,.03338],
  [1064,1064,.03407],[1064,1064,.0338],[1094,1094,.03356],[1090,1125,.03319],[1117,1117,.03314],[1120,1236,.03303],
  [1216,1216,.03337],[1221,1338,.03325],[1326,1413,.0335],[1413,1471,.03364],[1443,1443,.0337],[1469,1614,.03389],
  [1600,1687,.03369],[1661,1763,.03401],[1748,1952,.03408],[1801,1801,.03383],[1934,1979,.03445],[1975,2330,.03458],
  [2316,2396,.03446],[2388,2543,.03442],[2534,2644,.03447],[2627,2796,.03421],[2781,2854,.034],[2860,2860,.0341],
  [2860,3028,.03394],[3014,3052,.03408],[3037,3217,.03437],[3203,3500,.03467],[3486,3741,.03478],[3733,3968,.03438],
  [3951,4134,.0346],[4120,4230,.03466],[4215,4274,.03478],[4259,4454,.03507],[4440,4606,.03504],[4591,4963,.03489]
];

const chart = echarts.init(document.getElementById('chart'));

chart.setOption({
  animation: false,
  backgroundColor: '#fff',
  textStyle: { fontFamily: FONT, color: '#000' },
  title: {
    text: 'Learning',
    left: 370,
    top: 7,
    padding: 0,
    textStyle: { fontFamily: FONT, fontSize: 26, fontWeight: 'bold', color: '#000' }
  },
  grid: {
    left: 119, right: 9, top: 74, bottom: 111,
    outerBoundsMode: 'none',
    containLabel: false,
    show: true, borderColor: '#222', borderWidth: 1, backgroundColor: 'transparent'
  },
  legend: {
    orient: 'vertical',
    left: 505,
    top: 376,
    padding: 0,
    itemWidth: 34,
    itemHeight: 10,
    itemGap: 4,
    z: 20,
    selectedMode: false,
    data: [
      { name: seriesNames[0], icon: 'circle' },
      { name: seriesNames[1], icon: 'circle' }
    ],
    textStyle: { fontFamily: FONT, fontSize: 23, color: '#000' }
  },
  graphic: [{
    type: 'rect',
    z: 10,
    shape: { x: 487.5, y: 358.5, width: 244, height: 82 },
    style: { fill: '#fff', stroke: '#000', lineWidth: 1 }
  }],
  xAxis: {
    type: 'value',
    min: -196,
    max: 5158,
    name: 'N',
    nameLocation: 'middle',
    nameGap: 90,
    nameTextStyle: { fontFamily: FONT, fontSize: 22, color: '#000' },
    axisLine: { show: true, onZero: false, lineStyle: { color: '#222', width: 1 } },
    axisTick: { show: true, inside: false, customValues: xTicks, length: 14, lineStyle: { color: '#000', width: 1 } },
    axisLabel: {
      customValues: xTicks, fontFamily: FONT, fontSize: 22, color: '#000', margin: 21,
      formatter: v => String(v)
    },
    splitLine: { show: false }
  },
  yAxis: {
    type: 'value',
    min: 0.030021,
    max: 0.035264,
    name: 'Posterior Variance',
    nameLocation: 'middle',
    nameRotate: 90,
    nameGap: 86,
    nameTextStyle: { fontFamily: FONT, fontSize: 22, color: '#000' },
    axisLine: { show: true, onZero: false, lineStyle: { color: '#222', width: 1 } },
    axisTick: { show: true, inside: false, customValues: yTicks, length: 14, lineStyle: { color: '#000', width: 1 } },
    axisLabel: {
      customValues: yLabels, rotate: 90, fontFamily: FONT, fontSize: 22, color: '#000', margin: 29,
      formatter: v => v.toFixed(3)
    },
    splitLine: { show: false }
  },
  series: [
    {
      name: seriesNames[1],
      type: 'custom',
      z: 2,
      itemStyle: { color: '#ff0000' },
      encode: { x: [0, 1], y: 2 },
      data: closestRuns,
      renderItem: (params, api) => {
        const a = api.coord([api.value(0), api.value(2)]);
        const b = api.coord([api.value(1), api.value(2)]);
        if (b[0] - a[0] < 1) {
          return { type: 'circle', shape: { cx: a[0], cy: a[1], r: 1.8 }, style: { fill: '#ff0000' } };
        }
        return {
          type: 'line',
          shape: { x1: a[0], y1: a[1], x2: b[0], y2: b[1] },
          style: { stroke: '#ff0000', lineWidth: 3.6, lineCap: 'round' }
        };
      }
    },
    {
      name: seriesNames[0],
      type: 'scatter',
      z: 3,
      symbol: 'circle',
      symbolSize: 3.8,
      itemStyle: { color: '#0000ff' },
      data: randomPts.concat(randomCorePts)
    }
  ]
});

window.addEventListener('resize', () => chart.resize());
</script>
</body>
</html>
